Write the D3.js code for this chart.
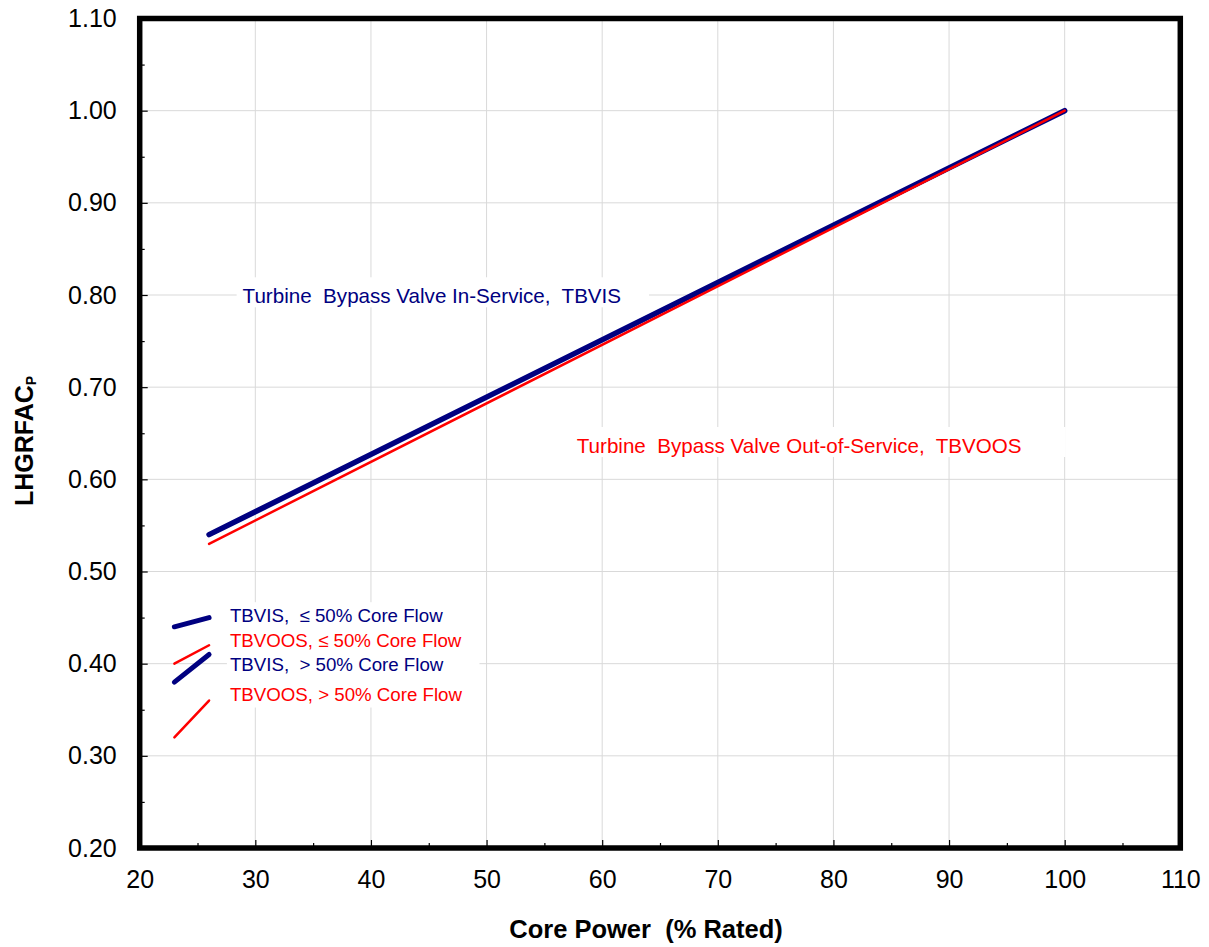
<!DOCTYPE html>
<html>
<head>
<meta charset="utf-8">
<script src="https://cdn.jsdelivr.net/npm/d3@7"></script>
<style>
  body { margin: 0; background: #fff; }
  text { font-family: "Liberation Sans", Arial, sans-serif; }
</style>
</head>
<body>
<div id="chart"></div>
<script>
// values
const mainPower = [26, 100];
const tbvisMain = [0.54, 1.00];
const tbvoosMain = [0.53, 1.00];
const lowPower = [23, 26];
const tbvisLow = [0.44, 0.45];   // <= 50% core flow
const tbvoosLow = [0.40, 0.42];
const tbvisHigh = [0.38, 0.41];  // > 50% core flow
const tbvoosHigh = [0.32, 0.36];

const xMajor = [20, 30, 40, 50, 60, 70, 80, 90, 100, 110];
const yMajor = [0.2, 0.3, 0.4, 0.5, 0.6, 0.7, 0.8, 0.9, 1.0, 1.1];

const navy = "#000080", red = "#ff0000";

const width = 1209, height = 947;
const margin = {top: 18.5, right: 28.7, bottom: 99, left: 139.7};

const svg = d3.select("#chart").append("svg")
    .attr("width", width)
    .attr("height", height);

const x = d3.scaleLinear().domain([20, 110]).range([margin.left, width - margin.right]);
const y = d3.scaleLinear().domain([0.2, 1.1]).range([height - margin.bottom, margin.top]);

// grid
svg.append("g")
    .attr("stroke", "#d9d9d9")
    .attr("stroke-width", 1)
  .selectAll("line.gx")
  .data(xMajor.slice(1, -1))
  .join("line")
    .attr("x1", d => x(d)).attr("x2", d => x(d))
    .attr("y1", y(0.2)).attr("y2", y(1.1));
svg.append("g")
    .attr("stroke", "#d9d9d9")
    .attr("stroke-width", 1)
  .selectAll("line.gy")
  .data(yMajor.slice(1, -1))
  .join("line")
    .attr("y1", d => y(d)).attr("y2", d => y(d))
    .attr("x1", x(20)).attr("x2", x(110));

// text boxes (white background hides the grid)
const labels = [
  {text: "Turbine\u00a0 Bypass Valve In-Service,\u00a0 TBVIS", color: navy, px: 28.9, py: 0.791, size: 20.6, pad: [6, 7, 28, 0]},
  {text: "Turbine\u00a0 Bypass Valve Out-of-Service,\u00a0 TBVOOS", color: red, px: 57.8, py: 0.6286, size: 20.6, pad: [14, 7, 44, 0]}
];
const legendLabels = [
  {text: "TBVIS,\u00a0 \u2264 50% Core Flow", color: navy, py: 0.445},
  {text: "TBVOOS, \u2264 50% Core Flow", color: red, py: 0.418},
  {text: "TBVIS,\u00a0 > 50% Core Flow", color: navy, py: 0.392},
  {text: "TBVOOS, > 50% Core Flow", color: red, py: 0.360}
];

const boxG = svg.append("g");
const lineG = svg.append("g");
const textG = svg.append("g");

labels.forEach(l => {
  const t = textG.append("text")
      .attr("x", x(l.px)).attr("y", y(l.py))
      .attr("fill", l.color)
      .attr("font-size", l.size)
      .text(l.text);
  const b = t.node().getBBox();
  boxG.append("rect")
      .attr("x", b.x - l.pad[0]).attr("y", b.y - l.pad[1])
      .attr("width", b.width + l.pad[0] + l.pad[2])
      .attr("height", b.height + l.pad[1] + l.pad[3])
      .attr("fill", "#fff");
});

const legText = textG.append("g");
legendLabels.forEach(l => {
  legText.append("text")
      .attr("x", x(27.8)).attr("y", y(l.py))
      .attr("fill", l.color)
      .attr("font-size", 18.7)
      .text(l.text);
});
const lb = legText.node().getBBox();
boxG.append("rect")
    .attr("x", lb.x - 3).attr("y", lb.y - 3)
    .attr("width", lb.width + 20).attr("height", lb.height + 6)
    .attr("fill", "#fff");

// lines
const line = d3.line().x(d => x(d[0])).y(d => y(d[1]));
const series = [
  {px: mainPower, vals: tbvisMain, color: navy, w: 5.5},
  {px: mainPower, vals: tbvoosMain, color: red, w: 2.5},
  {px: lowPower, vals: tbvisLow, color: navy, w: 5},
  {px: lowPower, vals: tbvoosLow, color: red, w: 2.5},
  {px: lowPower, vals: tbvisHigh, color: navy, w: 5},
  {px: lowPower, vals: tbvoosHigh, color: red, w: 2.5}
];
lineG.selectAll("path")
  .data(series)
  .join("path")
    .attr("d", s => line(s.px.map((p, i) => [p, s.vals[i]])))
    .attr("fill", "none")
    .attr("stroke", s => s.color)
    .attr("stroke-width", s => s.w)
    .attr("stroke-linecap", "round");

// axes
svg.append("g")
    .attr("transform", `translate(0,${y(0.2)})`)
    .call(d3.axisBottom(x).tickValues(xMajor).tickSize(-8).tickPadding(22).tickFormat(d3.format("d")));
svg.append("g")
    .attr("transform", `translate(0,${y(0.2)})`)
    .call(d3.axisBottom(x).tickValues(d3.range(25, 110, 10)).tickSize(-5).tickFormat(""));
svg.append("g")
    .attr("transform", `translate(${x(20)},0)`)
    .call(d3.axisLeft(y).tickValues(yMajor).tickSize(-8).tickPadding(23).tickFormat(d3.format(".2f")));
svg.append("g")
    .attr("transform", `translate(${x(20)},0)`)
    .call(d3.axisLeft(y).tickValues(d3.range(0.25, 1.1, 0.1)).tickSize(-5).tickFormat(""));

svg.selectAll(".domain").remove();
svg.selectAll(".tick line").attr("stroke", "#000").attr("stroke-width", 1.2);
svg.selectAll(".tick text").attr("font-size", 25).attr("fill", "#000")
    .attr("font-family", "'Liberation Sans', Arial, sans-serif");

// frame
svg.append("rect")
    .attr("x", x(20)).attr("y", y(1.1))
    .attr("width", x(110) - x(20)).attr("height", y(0.2) - y(1.1))
    .attr("fill", "none")
    .attr("stroke", "#000")
    .attr("stroke-width", 5.5);

// axis titles
svg.append("text")
    .attr("x", 646).attr("y", 938)
    .attr("text-anchor", "middle")
    .attr("font-size", 25.5)
    .attr("font-weight", "bold")
    .text("Core Power\u00a0 (% Rated)");

const yt = svg.append("text")
    .attr("transform", "translate(33,506) rotate(-90)")
    .attr("font-size", 25)
    .attr("font-weight", "bold");
yt.append("tspan").text("LHGRFAC");
yt.append("tspan").attr("font-size", 14).attr("dy", 3).text("P");
</script>
</body>
</html>
